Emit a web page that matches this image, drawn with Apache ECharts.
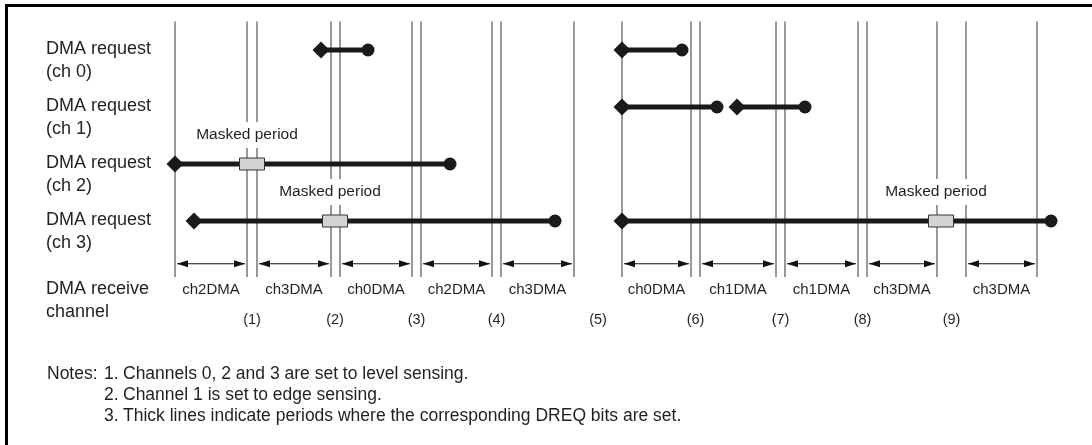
<!DOCTYPE html>
<html>
<head>
<meta charset="utf-8">
<script src="https://cdn.jsdelivr.net/npm/echarts@6/dist/echarts.min.js"></script>
<style>
  html, body { margin: 0; padding: 0; background: #fff; }
  #chart { width: 1092px; height: 445px; }
</style>
</head>
<body>
<div id="chart"></div>
<script>
// time axis: arbitrary units, rows: 0..3 = DMA request ch0..ch3
const rowLabels = ['DMA request\n(ch 0)', 'DMA request\n(ch 1)', 'DMA request\n(ch 2)', 'DMA request\n(ch 3)'];

// vertical timing boundaries
const edges = [0, 7.2, 8.2, 15.6, 16.5, 23.7, 24.6, 31.7, 32.6, 39.9, 44.7, 51.6, 52.5, 60.1, 61.0, 68.3, 69.2, 76.2, 79.1, 86.2];

// request periods (thick lines): row, set, cleared
const reqRow   = [0, 0, 1, 1, 2, 3, 3];
const reqStart = [14.6, 44.7, 44.7, 56.2, 0, 1.9, 44.7];
const reqEnd   = [19.3, 50.7, 54.2, 63.0, 27.5, 38.0, 87.6];

// masked periods
const maskRow  = [2, 3, 3];
const maskTime = [7.7, 16.0, 76.6];

// DMA receive channel
const periodStart  = [0, 8.2, 16.5, 24.6, 32.6, 44.7, 52.5, 61.0, 69.2, 79.1];
const periodEnd    = [7.2, 15.6, 23.7, 31.7, 39.9, 51.6, 60.1, 68.3, 76.2, 86.2];
const periodLabels = ['ch2DMA', 'ch3DMA', 'ch0DMA', 'ch2DMA', 'ch3DMA', 'ch0DMA', 'ch1DMA', 'ch1DMA', 'ch3DMA', 'ch3DMA'];

// numbered points
const eventLabels = ['(1)', '(2)', '(3)', '(4)', '(5)', '(6)', '(7)', '(8)', '(9)'];
const eventTime   = [7.7, 16.0, 24.15, 32.15, 42.3, 52.05, 60.55, 68.75, 77.65];

const notes = [
  ['1.', 'Channels 0, 2 and 3 are set to level sensing.'],
  ['2.', 'Channel 1 is set to edge sensing.'],
  ['3.', 'Thick lines indicate periods where the corresponding DREQ bits are set.']
];

const FONT = '"Liberation Sans", Arial, sans-serif';
const INK = '#231f20';
const LINE_BOTTOM = 3.982;
const ARROW_ROW = 3.75;
const PERIOD_ROW = 4.21;
const EVENT_ROW = 4.74;
const RECEIVE_ROW = 4.21;
const NOTE_FONT = '17.5px ' + FONT;

let chart = echarts.init(document.getElementById('chart'));

function txt(text, x, y, size, opts) {
  return {
    type: 'text',
    style: Object.assign({
      text: text, x: x, y: y,
      font: size + 'px ' + FONT,
      fill: INK,
      align: 'center',
      verticalAlign: 'middle'
    }, opts || {})
  };
}

let option = {
  animation: false,
  grid: { left: 175, width: 900, top: 21.5, height: 313.5 },
  xAxis: { type: 'value', min: 0, max: 90, show: false },
  yAxis: { type: 'value', min: -0.5, max: 5, inverse: true, show: false },
  graphic: [
    {
      type: 'rect',
      shape: { x: 6.5, y: 5.5, width: 1200, height: 600 },
      style: { fill: 'none', stroke: '#000', lineWidth: 3 },
      silent: true
    },
    {
      type: 'text',
      left: 47, top: 365,
      style: { text: 'Notes:', font: NOTE_FONT, fill: INK }
    }
  ].concat(notes.map((n, i) => ({
    type: 'group',
    left: 104, top: 365 + i * 21,
    children: [
      { type: 'text', style: { text: n[0], font: NOTE_FONT, fill: INK } },
      { type: 'text', x: 19, style: { text: n[1], font: NOTE_FONT, fill: INK } }
    ]
  }))),
  series: [
    {
      // vertical boundaries
      type: 'custom',
      z: 1,
      data: edges.map(t => [t]),
      renderItem: (params, api) => {
        const top = api.coord([api.value(0), -0.5]);
        const bot = api.coord([api.value(0), LINE_BOTTOM]);
        return {
          type: 'line',
          shape: { x1: top[0], y1: top[1], x2: bot[0], y2: bot[1] },
          style: { stroke: '#333', lineWidth: 1 }
        };
      }
    },
    {
      // row labels on the left
      type: 'custom',
      z: 2,
      data: rowLabels.map((l, i) => [i]),
      renderItem: (params, api) => {
        const p = api.coord([0, api.value(0)]);
        return txt(rowLabels[params.dataIndex], p[0] - 129, p[1] - 12, 18,
          { align: 'left', verticalAlign: 'top', lineHeight: 23 });
      }
    },
    {
      // DREQ set periods
      type: 'custom',
      z: 3,
      data: reqRow.map((r, i) => [r, reqStart[i], reqEnd[i]]),
      renderItem: (params, api) => {
        const a = api.coord([api.value(1), api.value(0)]);
        const b = api.coord([api.value(2), api.value(0)]);
        const d = 8.5;
        return {
          type: 'group',
          children: [
            { type: 'line', shape: { x1: a[0], y1: a[1], x2: b[0], y2: b[1] }, style: { stroke: '#1a1a1a', lineWidth: 5 } },
            { type: 'polygon', shape: { points: [[a[0] - d, a[1]], [a[0], a[1] - d], [a[0] + d, a[1]], [a[0], a[1] + d]] }, style: { fill: '#1a1a1a' } },
            { type: 'circle', shape: { cx: b[0], cy: b[1], r: 6.5 }, style: { fill: '#1a1a1a' } }
          ]
        };
      }
    },
    {
      // masked periods
      type: 'custom',
      z: 4,
      data: maskRow.map((r, i) => [r, maskTime[i]]),
      renderItem: (params, api) => {
        const p = api.coord([api.value(1), api.value(0)]);
        return {
          type: 'group',
          children: [
            { type: 'rect', shape: { x: p[0] - 12.5, y: p[1] - 6, width: 25, height: 12 }, style: { fill: '#d3d3d3', stroke: '#333', lineWidth: 1 } },
            txt('Masked period', p[0] - 5, p[1] - 29, 15.5, { backgroundColor: '#fff', padding: [5, 1] })
          ]
        };
      }
    },
    {
      // DMA receive channel arrows
      type: 'custom',
      z: 2,
      data: periodStart.map((s, i) => [s, periodEnd[i]]),
      renderItem: (params, api) => {
        const a = api.coord([api.value(0), ARROW_ROW]);
        const b = api.coord([api.value(1), ARROW_ROW]);
        const c = api.coord([(api.value(0) + api.value(1)) / 2, PERIOD_ROW]);
        const x1 = a[0] + 2, x2 = b[0] - 2, y = a[1];
        const h = 11, w = 3.5;
        return {
          type: 'group',
          children: [
            { type: 'line', shape: { x1: x1, y1: y, x2: x2, y2: y }, style: { stroke: '#111', lineWidth: 1 } },
            { type: 'polygon', shape: { points: [[x1, y], [x1 + h, y - w], [x1 + h, y + w]] }, style: { fill: '#111' } },
            { type: 'polygon', shape: { points: [[x2, y], [x2 - h, y - w], [x2 - h, y + w]] }, style: { fill: '#111' } },
            txt(periodLabels[params.dataIndex], c[0], c[1], 15)
          ]
        };
      }
    },
    {
      // numbered points
      type: 'custom',
      z: 2,
      data: eventTime.map(t => [t]),
      renderItem: (params, api) => {
        const p = api.coord([api.value(0), EVENT_ROW]);
        return txt(eventLabels[params.dataIndex], p[0], p[1], 14.5);
      }
    },
    {
      type: 'custom',
      z: 2,
      data: [[0]],
      renderItem: (params, api) => {
        const p = api.coord([0, RECEIVE_ROW]);
        return txt('DMA receive\nchannel', p[0] - 129, p[1] - 12, 18,
          { align: 'left', verticalAlign: 'top', lineHeight: 23 });
      }
    }
  ]
};
chart.setOption(option);
</script>
</body>
</html>
